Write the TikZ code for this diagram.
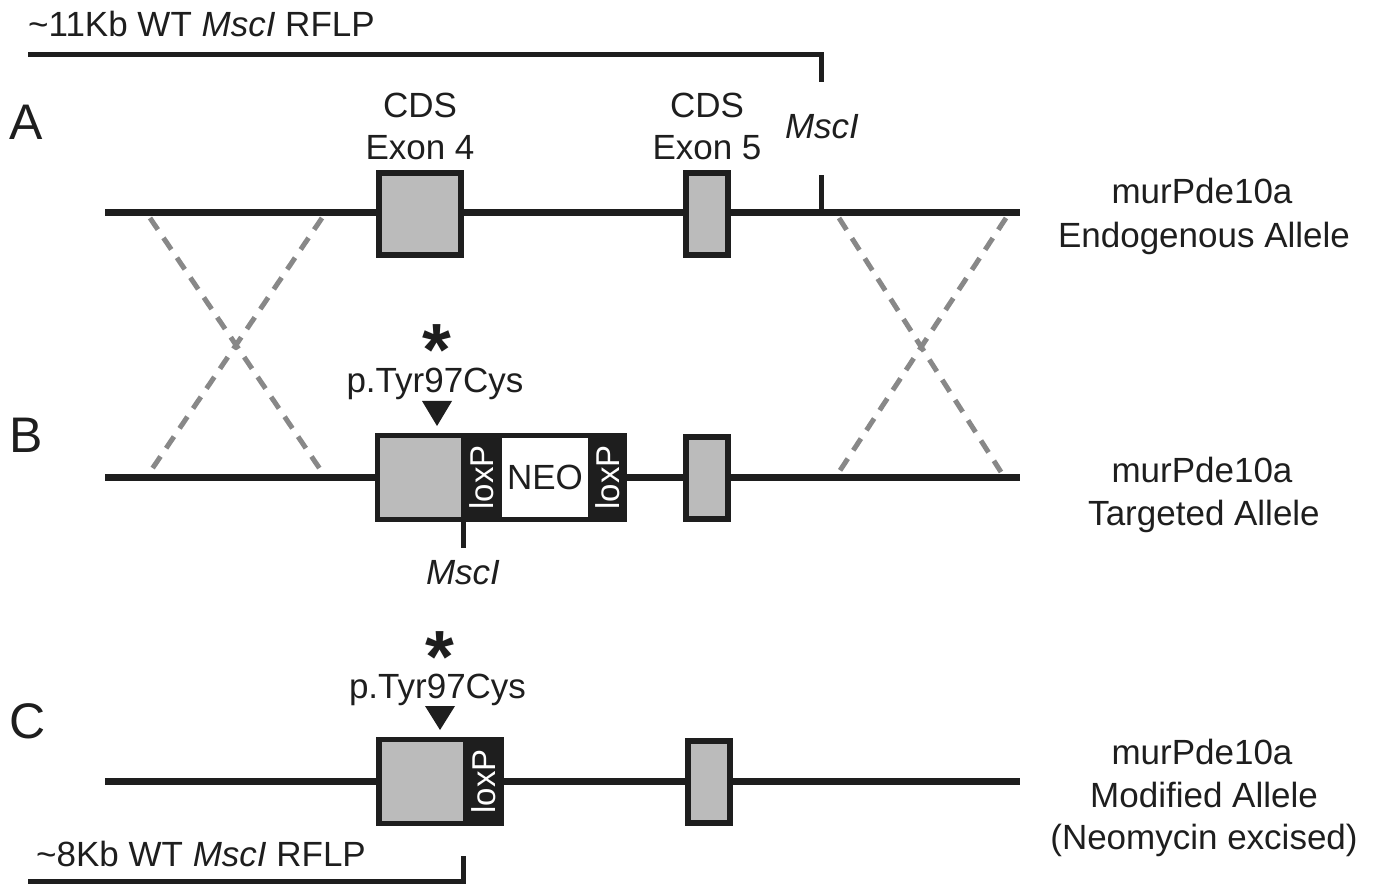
\documentclass[tikz,border=0pt]{standalone}
\usepackage{fontspec}
\setmainfont{Liberation Sans}
\definecolor{ink}{RGB}{30,30,30}
\definecolor{exgray}{RGB}{187,187,187}
\definecolor{xgray}{RGB}{136,136,136}
% asterisk whose box hugs the glyph
\newcommand{\mutstar}{\raisebox{-0.40em}[\dimexpr\height-0.40em\relax][0pt]{*}}
\begin{document}
\begin{tikzpicture}[x=1pt,y=-1pt,
  txt/.style={font=\fontsize{35}{40}\selectfont, text=ink, anchor=base, inner sep=0},
  letter/.style={font=\fontsize{50}{56}\selectfont, text=ink, anchor=base west, inner sep=0},
  dna/.style={draw=ink, line width=7},
  tick/.style={draw=ink, line width=5},
  bracket/.style={draw=ink, line width=5},
  cross/.style={draw=xgray, line width=5, dash pattern=on 14 off 10},
  exon/.style={draw=ink, fill=exgray, line width=6, inner sep=0, minimum height=82},
  cassette/.style={fill=ink, inner sep=0},
  core/.style={inner sep=0, minimum height=79},
  loxp/.style={rotate=90, text=white, inner sep=0, font=\fontsize{33}{36}\selectfont},
  star/.style={font=\bfseries\fontsize{74}{76}\selectfont, text=ink, anchor=north, inner sep=0},
  pin/.style={fill=ink}]
\useasboundingbox (0,0) rectangle (1377,885);

% ---------- RFLP bracket over the wild-type allele ----------
\node[txt, anchor=base west] (rflpA) at (28,37) {\textasciitilde11Kb WT \textit{MscI} RFLP};
\coordinate (tA0) at (28,55);
\coordinate (tA1) at (821,55);
\coordinate (tA2) at (821,82);
\draw[bracket] (tA0) -- (tA1) -- (tA2);

% ---------- A: endogenous allele ----------
\node[letter] (labA) at (9,140) {A};
\coordinate (a0) at (105,213);
\coordinate (a1) at (1020,213);
\draw[dna] (a0) -- (a1);
\node[exon, minimum width=82] (aE4) at (420,214) {};
\node[exon, minimum width=42] (aE5) at (707,214) {};
\node[txt] (cds4) at (420,118) {CDS};
\node[txt] (ex4) at (420,160) {Exon 4};
\node[txt] (cds5) at (707,118) {CDS};
\node[txt] (ex5) at (707,160) {Exon 5};
\coordinate (aM0) at (821,213);
\coordinate (aM1) at (821,175);
\draw[tick] (aM0) -- (aM1);
\node[txt] (mscA) at (822,139) {\textit{MscI}};
\node[txt] (nameA1) at (1202,204) {murPde10a};
\node[txt] (nameA2) at (1204,248) {Endogenous Allele};

% ---------- homologous recombination crosses ----------
\coordinate (xl1) at (150,218);
\coordinate (xl2) at (322,218);
\coordinate (xl3) at (150,472);
\coordinate (xl4) at (322,472);
\draw[cross] (xl1) -- (xl4);
\draw[cross] (xl2) -- (xl3);
\coordinate (xr1) at (839,218);
\coordinate (xr2) at (1006,218);
\coordinate (xr3) at (839,472);
\coordinate (xr4) at (1001,472);
\draw[cross] (xr1) -- (xr4);
\draw[cross] (xr2) -- (xr3);

% ---------- B: targeted allele ----------
\node[letter] (labB) at (9,452) {B};
\coordinate (b0) at (105,477);
\coordinate (b1) at (1020,477);
\draw[dna] (b0) -- (b1);
\coordinate (bM0) at (463,520);
\coordinate (bM1) at (463,548);
\draw[tick] (bM0) -- (bM1);
\node[cassette, minimum width=252, minimum height=89] (bCas) at (501,477.5) {};
\node[core, fill=exgray, minimum width=81] (bE4) at (420.5,477.5) {};
\node[core, fill=white, minimum width=86, font=\fontsize{35}{40}\selectfont, text=ink] (neo) at (545,477.5) {NEO};
\node[loxp] (bL1) at (481.5,477.5) {loxP};
\node[loxp] (bL2) at (607.5,477.5) {loxP};
\node[exon, minimum width=42] (bE5) at (707,477.5) {};
\node[txt] (mscB) at (463,584) {\textit{MscI}};
\node[star] (starB) at (437,324) {\mutstar};
\node[txt] (mutB) at (435,392) {p.Tyr97Cys};
\coordinate (trB1) at (422,401);
\coordinate (trB2) at (452,401);
\coordinate (trB3) at (437,426);
\fill[pin] (trB1) -- (trB2) -- (trB3) -- cycle;
\node[txt] (nameB1) at (1202,482) {murPde10a};
\node[txt] (nameB2) at (1204,525) {Targeted Allele};

% ---------- C: modified allele ----------
\node[letter] (labC) at (9,738) {C};
\coordinate (c0) at (105,781);
\coordinate (c1) at (1020,781);
\draw[dna] (c0) -- (c1);
\node[cassette, minimum width=128, minimum height=89] (cCas) at (440,781.5) {};
\node[core, fill=exgray, minimum width=81] (cE4) at (422.5,781.5) {};
\node[loxp] (cL1) at (483.5,781.5) {loxP};
\node[exon, minimum width=42] (cE5) at (709,781.5) {};
\node[star] (starC) at (440,631) {\mutstar};
\node[txt] (mutC) at (437.5,698) {p.Tyr97Cys};
\coordinate (trC1) at (425,706);
\coordinate (trC2) at (455,706);
\coordinate (trC3) at (440,730);
\fill[pin] (trC1) -- (trC2) -- (trC3) -- cycle;
\node[txt] (nameC1) at (1202,764) {murPde10a};
\node[txt] (nameC2) at (1204,807) {Modified Allele};
\node[txt] (nameC3) at (1204,849) {(Neomycin excised)};

% ---------- RFLP bracket under the modified allele ----------
\node[txt, anchor=base west] (rflpC) at (36,866) {\textasciitilde8Kb WT \textit{MscI} RFLP};
\coordinate (tC0) at (28,881);
\coordinate (tC1) at (463,881);
\coordinate (tC2) at (463,856);
\draw[bracket] (tC0) -- (tC1) -- (tC2);
\end{tikzpicture}
\end{document}
